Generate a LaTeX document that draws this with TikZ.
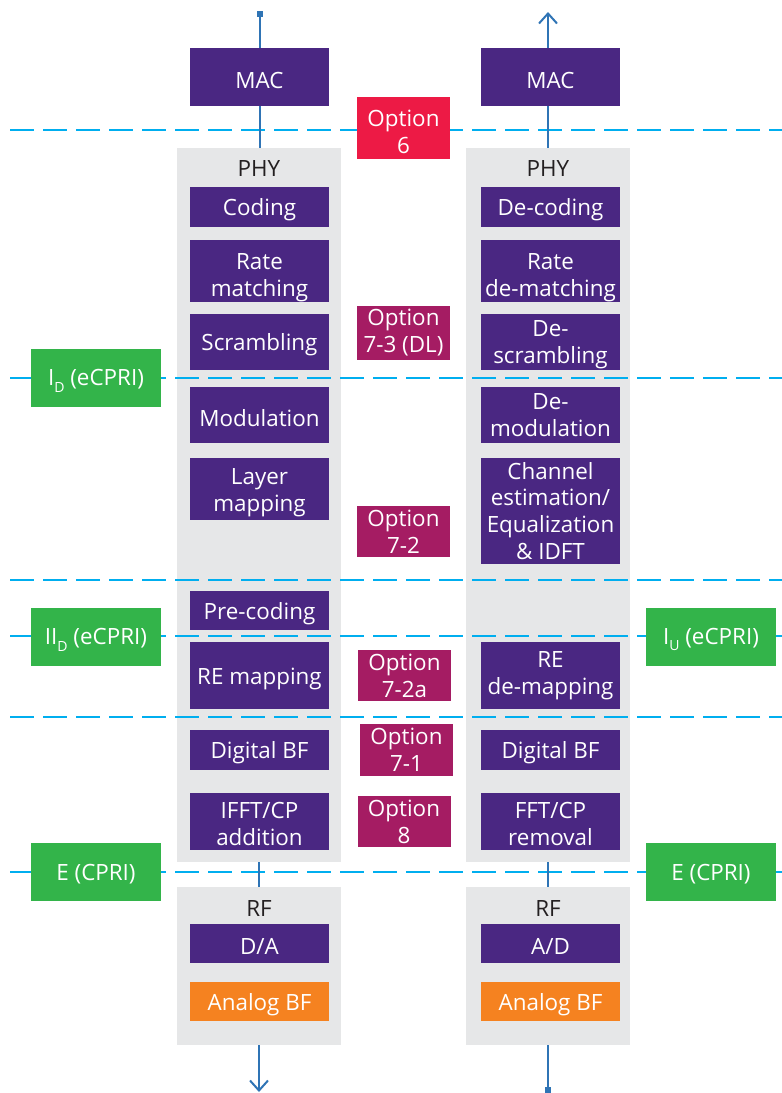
\documentclass[tikz,border=0pt]{standalone}
\usepackage{fontspec}
\setmainfont{Open Sans}
\usetikzlibrary{arrows.meta, positioning}

\definecolor{blkpurple}{HTML}{4A2782}
\definecolor{panelgray}{HTML}{E6E7E8}
\definecolor{optred}{HTML}{ED1A45}
\definecolor{optmag}{HTML}{A51C63}
\definecolor{ifgreen}{HTML}{33B44A}
\definecolor{bforange}{HTML}{F58220}
\definecolor{sigblue}{HTML}{2F74B5}
\definecolor{cutcyan}{HTML}{00AEEF}
\definecolor{labgray}{HTML}{231F20}

\newcommand{\ifsub}[1]{\raisebox{-0.55ex}{\fontsize{10.5}{10.5}\selectfont #1}}
\newcommand{\topgap}[1]{\rule{0pt}{#1}}

\begin{document}
\begin{tikzpicture}[
  x=0.75pt, y=-0.75pt,
  font=\fontsize{16.8}{20.2}\selectfont,
  panel/.style={fill=panelgray, minimum width=123pt, inner sep=0pt},
  plabel/.style={text=labgray, inner sep=0pt},
  lowtxt/.style={execute at begin node={\rule{0pt}{16.8pt}}},
  blk/.style={fill=blkpurple, text=white, align=center, minimum width=104.25pt, inner sep=0pt, lowtxt},
  opt/.style={fill=optmag, text=white, align=center, minimum width=69.75pt, minimum height=38.25pt, inner sep=0pt, lowtxt},
  iface/.style={fill=ifgreen, text=white, minimum width=97.5pt, minimum height=43.5pt, inner sep=0pt, lowtxt},
  cut/.style={cutcyan, line width=1.5pt, dash pattern=on 18pt off 6.75pt},
  sig/.style={sigblue, line width=1.5pt},
  arr/.style={sig, -{Straight Barb[length=7.5pt, width=13.5pt]}},
  sq/.style={sig, {Square[length=4.5pt, width=4.5pt]}-}
]
\useasboundingbox (0,0) rectangle (782,1093);

% grey panels
\node[panel, minimum height=535.5pt] (phyL) at (259,505) {};
\node[panel, minimum height=118.5pt] (rfL) at (259,966) {};
\node[panel, minimum height=535.5pt] (phyR) at (548,505) {};
\node[panel, minimum height=118.5pt] (rfR) at (548,966) {};
\node[plabel] (phyLlab) at (259,168) {PHY};
\node[plabel] (rfLlab) at (259,908) {RF};
\node[plabel] (phyRlab) at (548,168) {PHY};
\node[plabel] (rfRlab) at (548,908) {RF};

% split lines
\foreach \y in {130,378,580,636,717,872}
  \draw[cut] (10,\y) -- (782,\y);

% downlink chain
\node[blk, minimum height=43.5pt] (macL) at (259.5,77) {MAC};
\node[blk, minimum height=30pt] (codL) at (259.5,207) {Coding};
\node[blk, minimum height=46.5pt] (rmL) at (259.5,271) {\topgap{22.5pt}Rate\\matching};
\node[blk, minimum height=42pt] (scrL) at (259.5,342) {Scrambling};
\node[blk, minimum height=42pt] (modL) at (259.5,415) {Modulation};
\node[blk, minimum height=46.5pt] (layL) at (259.5,489) {\topgap{17.2pt}Layer\\mapping};
\node[blk, minimum height=29.25pt] (preL) at (259.5,610.5) {Pre-coding};
\node[blk, minimum height=50.25pt] (remL) at (259.5,675.5) {RE mapping};
\node[blk, minimum height=30pt] (dbfL) at (259.5,750) {Digital BF};
\node[blk, minimum height=42.75pt] (fftL) at (259.5,821.5) {\topgap{15.6pt}IFFT/CP\\addition};
\node[blk, minimum height=29.25pt] (daL) at (259.5,943.5) {D/A};
\node[blk, fill=bforange, minimum height=29.25pt] (abfL) at (259.5,1001.5) {Analog BF};

% uplink chain
\node[blk, minimum height=43.5pt] (macR) at (550.5,77) {MAC};
\node[blk, minimum height=30pt] (codR) at (550.5,207) {De-coding};
\node[blk, minimum height=46.5pt] (rmR) at (550.5,271) {\topgap{22.5pt}Rate\\de-matching};
\node[blk, minimum height=42pt] (scrR) at (550.5,342) {\topgap{16.5pt}De-\\scrambling};
\node[blk, minimum height=42pt] (modR) at (550.5,415) {De-\\modulation};
\node[blk, minimum height=79.5pt] (chR) at (550.5,511) {Channel\\estimation/\\Equalization\\\& IDFT};
\node[blk, minimum height=50.25pt] (remR) at (550.5,675.5) {RE\\de-mapping};
\node[blk, minimum height=30pt] (dbfR) at (550.5,750) {Digital BF};
\node[blk, minimum height=42.75pt] (fftR) at (550.5,821.5) {\topgap{15.6pt}FFT/CP\\removal};
\node[blk, minimum height=29.25pt] (adR) at (550.5,943.5) {A/D};
\node[blk, fill=bforange, minimum height=29.25pt] (abfR) at (550.5,1001.5) {Analog BF};

% split options
\node[opt, fill=optred, minimum height=46.5pt] (opt6) at (403.5,128) {\topgap{18.3pt}Option\\6};
\node[opt, minimum height=40.5pt] (opt73) at (403.5,333) {Option\\7-3 (DL)};
\node[opt] (opt72) at (403.5,531.5) {Option\\7-2};
\node[opt] (opt72a) at (404.5,675.5) {Option\\7-2a};
\node[opt, minimum height=39pt] (opt71) at (406.5,750) {Option\\7-1};
\node[opt] (opt8) at (404,821.5) {Option\\8};

% fronthaul interfaces
\node[iface] (ifId) at (96,378) {I\ifsub{D} (eCPRI)};
\node[iface] (ifIId) at (96,636.5) {II\ifsub{D} (eCPRI)};
\node[iface] (ifIu) at (711,636.5) {I\ifsub{U} (eCPRI)};
\node[iface] (ifEL) at (96,871.5) {E (CPRI)};
\node[iface] (ifER) at (711,871.5) {E (CPRI)};

% signal path
\coordinate (dlin) at (259.5,11);
\coordinate (dlout) at (259,1092);
\coordinate (ulin) at (548,1093);
\coordinate (ulout) at (548,12);

\draw[sq] (dlin) -- (macL.north);
\draw[sig] (macL.south) -- (phyL.north -| macL.south);
\draw[sig] (phyL.south) -- (rfL.north);
\draw[arr] (rfL.south) -- (dlout);
\draw[sq] (ulin) -- (rfR.south);
\draw[sig] (rfR.north) -- (phyR.south);
\draw[sig] (phyR.north) -- (macR.south -| phyR.north);
\draw[arr] (macR.north -| ulout) -- (ulout);
\end{tikzpicture}
\end{document}
